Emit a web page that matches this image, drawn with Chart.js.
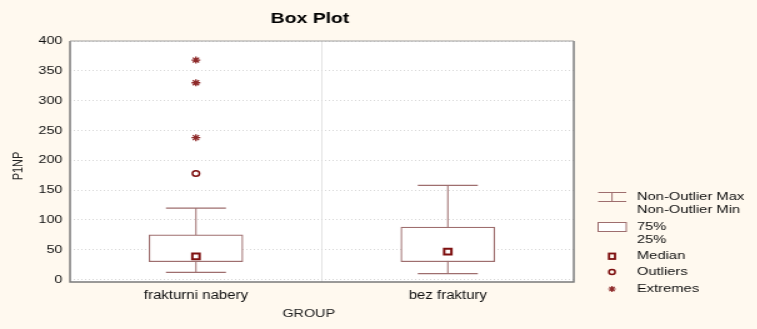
<!DOCTYPE html>
<html><head><meta charset="utf-8">
<script src="https://cdn.jsdelivr.net/npm/chart.js@4"></script>
<style>
html,body{margin:0;padding:0;background:#FFF9EF;overflow:hidden;}
#wrap{width:606px;height:329px;transform:scaleX(1.25);transform-origin:0 0;}
</style>
</head><body><div id="wrap"><canvas id="c" width="606" height="329"></canvas></div>
<script>
const categories = ['frakturni nabery', 'bez fraktury'];
const whiskerMin = [12, 10];
const q1 = [30, 30];
const medians = [39, 47];
const q3 = [75, 88];
const whiskerMax = [120, 158];
const outliers = [[178], []];
const extremes = [[368, 330, 238], []];
const yTicks = [0, 50, 100, 150, 200, 250, 300, 350, 400];

const BOX = '#9E6E6E', MARK = '#7E1010', EXT = '#8E2A2A';
const FONT = '"Liberation Sans", Arial, sans-serif';

const stemSets = categories.map((c, i) => ({
  type: 'line', order: 3,
  data: [{x: c, y: whiskerMin[i]}, {x: c, y: whiskerMax[i]}],
  borderColor: BOX, borderWidth: 1, pointRadius: 0, fill: false
}));
const capData = [];
categories.forEach((c, i) => { capData.push({x: c, y: whiskerMin[i]}, {x: c, y: whiskerMax[i]}); });
const outData = [], extData = [];
categories.forEach((c, i) => {
  outliers[i].forEach(v => outData.push({x: c, y: v}));
  extremes[i].forEach(v => extData.push({x: c, y: v}));
});

const frame = {
  id: 'frame',
  beforeDraw(ch) {
    const {ctx, chartArea: a} = ch;
    ctx.save();
    ctx.fillStyle = '#FFF9EF';
    ctx.fillRect(0, 0, ch.width, ch.height);
    ctx.fillStyle = '#FFFFFF';
    ctx.fillRect(a.left, a.top, a.right - a.left, a.bottom - a.top);
    ctx.restore();
  },
  afterDraw(ch) {
    const {ctx, chartArea: a} = ch;
    ctx.save();
    ctx.strokeStyle = '#7A7A7A'; ctx.lineWidth = 1.4;
    ctx.beginPath();
    ctx.moveTo(a.left, a.top); ctx.lineTo(a.left, a.bottom); ctx.lineTo(a.right, a.bottom); ctx.lineTo(a.right, a.top);
    ctx.stroke();
    ctx.strokeStyle = '#A0A0A0'; ctx.lineWidth = 1.2;
    ctx.beginPath(); ctx.moveTo(a.left, a.top); ctx.lineTo(a.right, a.top); ctx.stroke();
    // texts
    ctx.fillStyle = '#000';
    ctx.textAlign = 'center'; ctx.textBaseline = 'middle';
    ctx.font = 'bold 15.5px ' + FONT;
    ctx.fillText('Box Plot', 248, 18.5);
    ctx.font = '11.5px ' + FONT;
    ctx.fillStyle = '#222';
    ctx.fillText('GROUP', 247, 314);
    ctx.save();
    ctx.translate(15.3, 166); ctx.rotate(-Math.PI / 2);
    ctx.font = '11px ' + FONT;
    ctx.fillText('P1NP', 0, 0);
    ctx.restore();
    // legend
    const lx = 478.5, rx = 501, cx = 489.6, tx = 509.5;
    ctx.strokeStyle = BOX; ctx.lineWidth = 1;
    ctx.beginPath();
    ctx.moveTo(lx, 192.5); ctx.lineTo(rx, 192.5);
    ctx.moveTo(lx, 201.5); ctx.lineTo(rx, 201.5);
    ctx.moveTo(cx, 192.5); ctx.lineTo(cx, 201.5);
    ctx.stroke();
    ctx.fillStyle = '#fff';
    ctx.fillRect(lx, 222, rx - lx, 9);
    ctx.strokeRect(lx, 222.5, rx - lx, 9);
    ctx.strokeStyle = MARK; ctx.lineWidth = 1.8;
    ctx.strokeRect(cx - 2.4, 253.5, 4.8, 5.5);
    ctx.lineWidth = 1.5;
    ctx.beginPath(); ctx.arc(cx, 272, 2.5, 0, Math.PI * 2); ctx.stroke();
    ctx.strokeStyle = EXT; ctx.lineWidth = 1.2;
    ctx.beginPath();
    const r = 3, sy = 289;
    ctx.moveTo(cx - r, sy); ctx.lineTo(cx + r, sy);
    ctx.moveTo(cx, sy - r); ctx.lineTo(cx, sy + r);
    ctx.moveTo(cx - 2.1, sy - 2.1); ctx.lineTo(cx + 2.1, sy + 2.1);
    ctx.moveTo(cx - 2.1, sy + 2.1); ctx.lineTo(cx + 2.1, sy - 2.1);
    ctx.stroke();
    ctx.fillStyle = '#111'; ctx.textAlign = 'left'; ctx.font = '11.8px ' + FONT;
    [['Non-Outlier Max', 197], ['Non-Outlier Min', 210], ['75%', 227], ['25%', 240],
     ['Median', 256], ['Outliers', 272], ['Extremes', 289]].forEach(([t, y]) => ctx.fillText(t, tx, y));
    ctx.restore();
  }
};

new Chart(document.getElementById('c'), {
  data: {
    labels: categories,
    datasets: [
      ...stemSets,
      {type: 'bar', order: 2, data: categories.map((c, i) => [q1[i], q3[i]]),
       backgroundColor: '#FFFFFF', borderColor: BOX, borderWidth: 1.2, borderSkipped: false,
       barThickness: 75},
      {type: 'scatter', order: 1, data: capData, pointStyle: 'line', pointRadius: 24,
       borderColor: BOX, borderWidth: 1.2, showLine: false},
      {type: 'scatter', order: 0, data: categories.map((c, i) => ({x: c, y: medians[i]})),
       pointStyle: 'rect', pointRadius: 4.1, backgroundColor: '#fff', borderColor: MARK, borderWidth: 2},
      {type: 'scatter', order: 0, data: outData, pointStyle: 'circle', pointRadius: 2.8,
       backgroundColor: '#fff', borderColor: MARK, borderWidth: 1.5},
      {type: 'scatter', order: 0, data: extData, pointStyle: 'star', pointRadius: 3.5,
       borderColor: EXT, borderWidth: 1.3}
    ]
  },
  options: {
    responsive: false, animation: false, devicePixelRatio: 1,
    layout: {padding: {left: 0, right: 147, top: 41, bottom: 0}},
    plugins: {legend: {display: false}, tooltip: {enabled: false}, title: {display: false}},
    scales: {
      x: {
        type: 'category', offset: true,
        grid: {offset: true, color: '#E4E4E4', drawTicks: false, lineWidth: 1},
        border: {display: false},
        ticks: {color: '#111', font: {family: FONT, size: 12}, padding: 6},
        afterFit: s => { s.height = 47; }
      },
      y: {
        type: 'linear', min: -4, max: 400,
        afterBuildTicks: s => { s.ticks = yTicks.map(v => ({value: v})); },
        grid: {color: '#D8D8D8', lineWidth: 1, drawTicks: false},
        border: {display: false, dash: [1, 2]},
        ticks: {color: '#111', font: {family: FONT, size: 11.5}, padding: 6},
        afterFit: s => { s.width = 56; }
      }
    }
  },
  plugins: [frame]
});
</script></body></html>
